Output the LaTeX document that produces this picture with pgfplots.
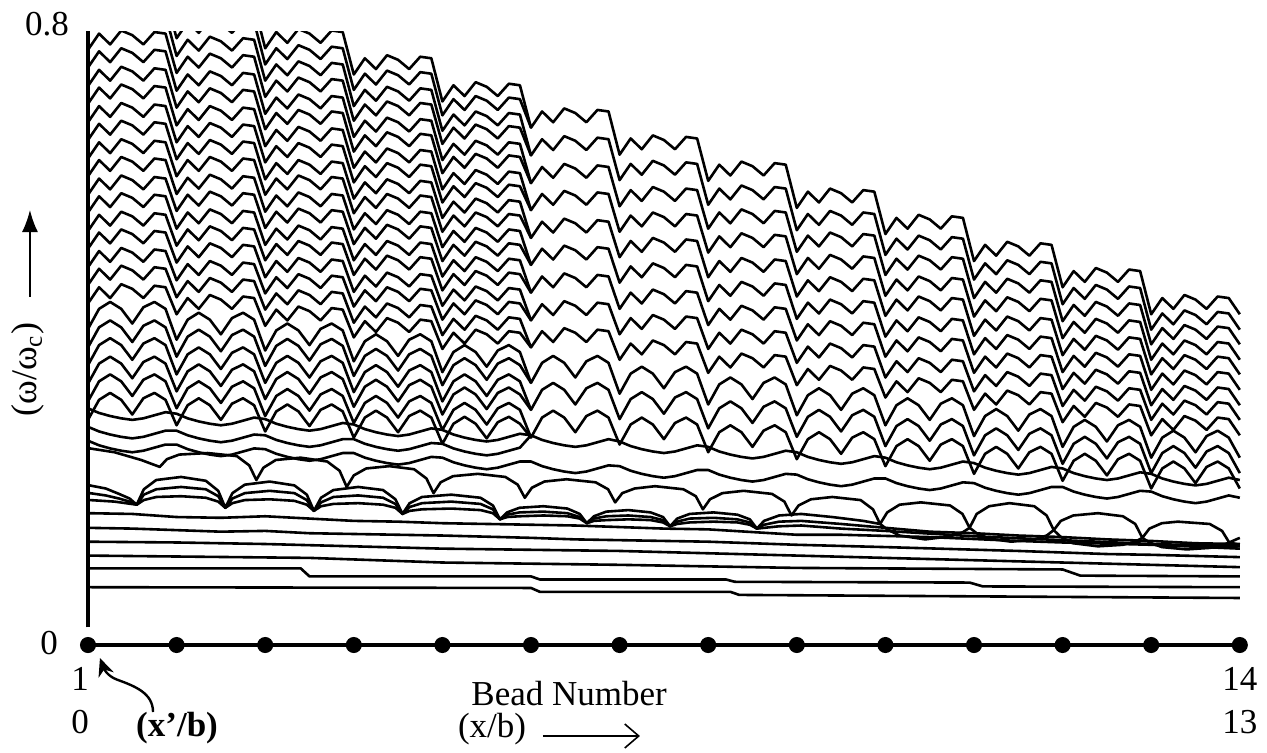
\documentclass[border=0pt]{standalone}
\usepackage{pgfplots}
\pgfplotsset{compat=1.18}
\usepackage{pgfplotstable}
\usepackage{fontspec}
\setmainfont{Liberation Serif}
\usetikzlibrary{arrows.meta}
\newcommand\lbl{\fontsize{17.5}{21}\selectfont}

% family of 27 curves, every eighth of a bead (even ones are drawn up to bead 5 only)
\pgfplotstableread{
x d1 d2 d3 d4 d5 d6 d7 d8 d9 d10 d11 d12 d13 d14 d15 d16 d17 d18 d19 d20 d21 d22 d23 d24 d25 d26 d27
0 0.843 0.819 0.796 0.772 0.749 0.725 0.702 0.678 0.655 0.631 0.608 0.584 0.561 0.537 0.514 0.490 0.467 0.443 0.410 0.386 0.363 0.339 0.316 0.292 0.307 0.283 0.265
0.125 0.864 0.840 0.817 0.793 0.770 0.746 0.723 0.699 0.676 0.652 0.629 0.605 0.582 0.558 0.535 0.511 0.488 0.464 0.436 0.412 0.389 0.365 0.342 0.318 0.301 0.277 0.259
0.25 0.850 0.826 0.803 0.779 0.756 0.732 0.709 0.685 0.662 0.638 0.615 0.591 0.568 0.544 0.521 0.497 0.474 0.450 0.445 0.421 0.398 0.374 0.351 0.327 0.297 0.273 0.255
0.375 0.868 0.844 0.821 0.797 0.774 0.750 0.727 0.703 0.680 0.656 0.633 0.609 0.586 0.562 0.539 0.515 0.492 0.468 0.436 0.412 0.389 0.365 0.342 0.318 0.294 0.270 0.252
0.5 0.862 0.838 0.815 0.791 0.768 0.744 0.721 0.697 0.674 0.650 0.627 0.603 0.580 0.556 0.533 0.509 0.486 0.462 0.417 0.393 0.370 0.346 0.323 0.299 0.292 0.268 0.250
0.625 0.850 0.826 0.803 0.779 0.756 0.732 0.709 0.685 0.662 0.638 0.615 0.591 0.568 0.544 0.521 0.497 0.474 0.450 0.438 0.414 0.391 0.367 0.344 0.320 0.294 0.270 0.252
0.75 0.866 0.842 0.819 0.795 0.772 0.748 0.725 0.701 0.678 0.654 0.631 0.607 0.584 0.560 0.537 0.513 0.490 0.466 0.445 0.421 0.398 0.374 0.351 0.327 0.298 0.274 0.256
0.875 0.864 0.840 0.817 0.793 0.770 0.746 0.723 0.699 0.676 0.652 0.629 0.605 0.582 0.558 0.535 0.511 0.488 0.464 0.436 0.412 0.389 0.365 0.342 0.318 0.302 0.278 0.260
1 0.809 0.787 0.764 0.742 0.719 0.697 0.674 0.652 0.630 0.608 0.585 0.563 0.540 0.518 0.496 0.473 0.451 0.429 0.396 0.374 0.351 0.329 0.307 0.285 0.300 0.278 0.260
1.125 0.830 0.808 0.785 0.763 0.740 0.718 0.695 0.673 0.651 0.629 0.606 0.584 0.561 0.539 0.517 0.494 0.472 0.450 0.422 0.400 0.377 0.355 0.333 0.311 0.294 0.272 0.254
1.25 0.816 0.794 0.771 0.749 0.726 0.704 0.681 0.659 0.637 0.615 0.592 0.570 0.547 0.525 0.503 0.480 0.458 0.436 0.431 0.409 0.386 0.364 0.342 0.320 0.290 0.268 0.250
1.375 0.834 0.812 0.789 0.767 0.744 0.722 0.699 0.677 0.655 0.633 0.610 0.588 0.565 0.543 0.521 0.498 0.476 0.454 0.422 0.400 0.377 0.355 0.333 0.311 0.287 0.265 0.247
1.5 0.828 0.806 0.783 0.761 0.738 0.716 0.693 0.671 0.649 0.627 0.604 0.582 0.559 0.537 0.515 0.492 0.470 0.448 0.403 0.381 0.358 0.336 0.314 0.292 0.285 0.263 0.245
1.625 0.816 0.794 0.771 0.749 0.726 0.704 0.681 0.659 0.637 0.615 0.592 0.570 0.547 0.525 0.503 0.480 0.458 0.436 0.424 0.402 0.379 0.357 0.335 0.313 0.287 0.265 0.247
1.75 0.832 0.810 0.787 0.765 0.742 0.720 0.697 0.675 0.653 0.631 0.608 0.586 0.563 0.541 0.519 0.496 0.474 0.452 0.431 0.409 0.386 0.364 0.342 0.320 0.291 0.269 0.251
1.875 0.830 0.808 0.785 0.763 0.740 0.718 0.695 0.673 0.651 0.629 0.606 0.584 0.561 0.539 0.517 0.494 0.472 0.450 0.422 0.400 0.377 0.355 0.333 0.311 0.295 0.273 0.255
2 0.774 0.753 0.732 0.711 0.689 0.669 0.647 0.626 0.604 0.584 0.562 0.541 0.519 0.499 0.477 0.456 0.435 0.414 0.382 0.362 0.340 0.319 0.297 0.277 0.293 0.272 0.254
2.125 0.795 0.774 0.753 0.732 0.710 0.690 0.668 0.647 0.625 0.605 0.583 0.562 0.540 0.520 0.498 0.477 0.456 0.435 0.408 0.388 0.366 0.345 0.323 0.303 0.287 0.266 0.248
2.25 0.781 0.760 0.739 0.718 0.696 0.676 0.654 0.633 0.611 0.591 0.569 0.548 0.526 0.506 0.484 0.463 0.442 0.421 0.417 0.397 0.375 0.354 0.332 0.312 0.283 0.262 0.244
2.375 0.799 0.778 0.757 0.736 0.714 0.694 0.672 0.651 0.629 0.609 0.587 0.566 0.544 0.524 0.502 0.481 0.460 0.439 0.408 0.388 0.366 0.345 0.323 0.303 0.280 0.259 0.241
2.5 0.793 0.772 0.751 0.730 0.708 0.688 0.666 0.645 0.623 0.603 0.581 0.560 0.538 0.518 0.496 0.475 0.454 0.433 0.389 0.369 0.347 0.326 0.304 0.284 0.278 0.257 0.239
2.625 0.781 0.760 0.739 0.718 0.696 0.676 0.654 0.633 0.611 0.591 0.569 0.548 0.526 0.506 0.484 0.463 0.442 0.421 0.410 0.390 0.368 0.347 0.325 0.305 0.280 0.259 0.241
2.75 0.797 0.776 0.755 0.734 0.712 0.692 0.670 0.649 0.627 0.607 0.585 0.564 0.542 0.522 0.500 0.479 0.458 0.437 0.417 0.397 0.375 0.354 0.332 0.312 0.284 0.263 0.245
2.875 0.795 0.774 0.753 0.732 0.710 0.690 0.668 0.647 0.625 0.605 0.583 0.562 0.540 0.520 0.498 0.477 0.456 0.435 0.408 0.388 0.366 0.345 0.323 0.303 0.288 0.267 0.249
3 0.740 0.720 0.699 0.680 0.659 0.640 0.619 0.600 0.579 0.560 0.539 0.520 0.499 0.480 0.458 0.439 0.418 0.399 0.368 0.349 0.328 0.309 0.288 0.269 0.286 0.267 0.249
3.125 0.761 0.741 0.720 0.701 0.680 0.661 0.640 0.621 0.600 0.581 0.560 0.541 0.520 0.501 0.479 0.460 0.439 0.420 0.394 0.375 0.354 0.335 0.314 0.295 0.280 0.261 0.243
3.25 0.747 0.727 0.706 0.687 0.666 0.647 0.626 0.607 0.586 0.567 0.546 0.527 0.506 0.487 0.465 0.446 0.425 0.406 0.403 0.384 0.363 0.344 0.323 0.304 0.276 0.257 0.239
3.375 0.765 0.745 0.724 0.705 0.684 0.665 0.644 0.625 0.604 0.585 0.564 0.545 0.524 0.505 0.483 0.464 0.443 0.424 0.394 0.375 0.354 0.335 0.314 0.295 0.273 0.254 0.236
3.5 0.759 0.739 0.718 0.699 0.678 0.659 0.638 0.619 0.598 0.579 0.558 0.539 0.518 0.499 0.477 0.458 0.437 0.418 0.375 0.356 0.335 0.316 0.295 0.276 0.271 0.252 0.234
3.625 0.747 0.727 0.706 0.687 0.666 0.647 0.626 0.607 0.586 0.567 0.546 0.527 0.506 0.487 0.465 0.446 0.425 0.406 0.396 0.377 0.356 0.337 0.316 0.297 0.273 0.254 0.236
3.75 0.763 0.743 0.722 0.703 0.682 0.663 0.642 0.623 0.602 0.583 0.562 0.543 0.522 0.503 0.481 0.462 0.441 0.422 0.403 0.384 0.363 0.344 0.323 0.304 0.277 0.258 0.240
3.875 0.761 0.741 0.720 0.701 0.680 0.661 0.640 0.621 0.600 0.581 0.560 0.541 0.520 0.501 0.479 0.460 0.439 0.420 0.394 0.375 0.354 0.335 0.314 0.295 0.281 0.262 0.244
4 0.705 0.687 0.667 0.650 0.629 0.612 0.591 0.574 0.554 0.536 0.516 0.498 0.478 0.460 0.440 0.422 0.402 0.384 0.354 0.337 0.316 0.299 0.279 0.261 0.279 0.261 0.243
4.125 0.726 0.708 0.688 0.671 0.650 0.633 0.612 0.595 0.575 0.557 0.537 0.519 0.499 0.481 0.461 0.443 0.423 0.405 0.380 0.363 0.342 0.325 0.305 0.287 0.273 0.255 0.237
4.25 0.712 0.694 0.674 0.657 0.636 0.619 0.598 0.581 0.561 0.543 0.523 0.505 0.485 0.467 0.447 0.429 0.409 0.391 0.389 0.372 0.351 0.334 0.314 0.296 0.269 0.251 0.233
4.375 0.730 0.712 0.692 0.675 0.654 0.637 0.616 0.599 0.579 0.561 0.541 0.523 0.503 0.485 0.465 0.447 0.427 0.409 0.380 0.363 0.342 0.325 0.305 0.287 0.266 0.248 0.230
4.5 0.724 0.706 0.686 0.669 0.648 0.631 0.610 0.593 0.573 0.555 0.535 0.517 0.497 0.479 0.459 0.441 0.421 0.403 0.361 0.344 0.323 0.306 0.286 0.268 0.264 0.246 0.228
4.625 0.712 0.694 0.674 0.657 0.636 0.619 0.598 0.581 0.561 0.543 0.523 0.505 0.485 0.467 0.447 0.429 0.409 0.391 0.382 0.365 0.344 0.327 0.307 0.289 0.266 0.248 0.230
4.75 0.728 0.710 0.690 0.673 0.652 0.635 0.614 0.597 0.577 0.559 0.539 0.521 0.501 0.483 0.463 0.445 0.425 0.407 0.389 0.372 0.351 0.334 0.314 0.296 0.270 0.252 0.234
4.875 0.726 0.708 0.688 0.671 0.650 0.633 0.612 0.595 0.575 0.557 0.537 0.519 0.499 0.481 0.461 0.443 0.423 0.405 0.380 0.363 0.342 0.325 0.305 0.287 0.274 0.256 0.238
5 0.671 0.671 0.635 0.635 0.599 0.599 0.564 0.564 0.528 0.528 0.493 0.493 0.457 0.457 0.421 0.421 0.386 0.386 0.340 0.340 0.305 0.305 0.269 0.269 0.272 0.272 0.238
5.125 0.692 0.675 0.656 0.640 0.620 0.604 0.585 0.569 0.549 0.533 0.514 0.497 0.478 0.462 0.442 0.426 0.407 0.391 0.366 0.350 0.331 0.315 0.295 0.279 0.266 0.249 0.232
5.25 0.678 0.661 0.642 0.626 0.606 0.590 0.571 0.555 0.535 0.519 0.500 0.483 0.464 0.448 0.428 0.412 0.393 0.377 0.375 0.359 0.340 0.324 0.304 0.288 0.262 0.245 0.228
5.375 0.696 0.679 0.660 0.644 0.624 0.608 0.589 0.573 0.553 0.537 0.518 0.501 0.482 0.466 0.446 0.430 0.411 0.395 0.366 0.350 0.331 0.315 0.295 0.279 0.259 0.242 0.225
5.5 0.690 0.673 0.654 0.638 0.618 0.602 0.583 0.567 0.547 0.531 0.512 0.495 0.476 0.460 0.440 0.424 0.405 0.389 0.347 0.331 0.312 0.296 0.276 0.260 0.257 0.240 0.223
5.625 0.678 0.661 0.642 0.626 0.606 0.590 0.571 0.555 0.535 0.519 0.500 0.483 0.464 0.448 0.428 0.412 0.393 0.377 0.368 0.352 0.333 0.317 0.297 0.281 0.259 0.242 0.225
5.75 0.694 0.677 0.658 0.642 0.622 0.606 0.587 0.571 0.551 0.535 0.516 0.499 0.480 0.464 0.444 0.428 0.409 0.393 0.375 0.359 0.340 0.324 0.304 0.288 0.263 0.246 0.229
5.875 0.692 0.675 0.656 0.640 0.620 0.604 0.585 0.569 0.549 0.533 0.514 0.497 0.478 0.462 0.442 0.426 0.407 0.391 0.366 0.350 0.331 0.315 0.295 0.279 0.267 0.250 0.233
6 0.636 0.621 0.603 0.588 0.569 0.555 0.536 0.521 0.503 0.488 0.470 0.455 0.436 0.422 0.403 0.388 0.370 0.355 0.326 0.312 0.293 0.278 0.260 0.245 0.264 0.250 0.232
6.125 0.657 0.642 0.624 0.609 0.590 0.576 0.557 0.542 0.524 0.509 0.491 0.476 0.457 0.443 0.424 0.409 0.391 0.376 0.352 0.338 0.319 0.304 0.286 0.271 0.258 0.244 0.226
6.25 0.643 0.628 0.610 0.595 0.576 0.562 0.543 0.528 0.510 0.495 0.477 0.462 0.443 0.429 0.410 0.395 0.377 0.362 0.361 0.347 0.328 0.313 0.295 0.280 0.254 0.240 0.222
6.375 0.661 0.646 0.628 0.613 0.594 0.580 0.561 0.546 0.528 0.513 0.495 0.480 0.461 0.447 0.428 0.413 0.395 0.380 0.352 0.338 0.319 0.304 0.286 0.271 0.251 0.237 0.219
6.5 0.655 0.640 0.622 0.607 0.588 0.574 0.555 0.540 0.522 0.507 0.489 0.474 0.455 0.441 0.422 0.407 0.389 0.374 0.333 0.319 0.300 0.285 0.267 0.252 0.249 0.235 0.217
6.625 0.643 0.628 0.610 0.595 0.576 0.562 0.543 0.528 0.510 0.495 0.477 0.462 0.443 0.429 0.410 0.395 0.377 0.362 0.354 0.340 0.321 0.306 0.288 0.273 0.251 0.237 0.219
6.75 0.659 0.644 0.626 0.611 0.592 0.578 0.559 0.544 0.526 0.511 0.493 0.478 0.459 0.445 0.426 0.411 0.393 0.378 0.361 0.347 0.328 0.313 0.295 0.280 0.255 0.241 0.223
6.875 0.657 0.642 0.624 0.609 0.590 0.576 0.557 0.542 0.524 0.509 0.491 0.476 0.457 0.443 0.424 0.409 0.391 0.376 0.352 0.338 0.319 0.304 0.286 0.271 0.259 0.245 0.227
7 0.602 0.588 0.571 0.557 0.540 0.526 0.509 0.495 0.477 0.464 0.446 0.433 0.415 0.402 0.384 0.371 0.353 0.340 0.312 0.299 0.281 0.268 0.250 0.237 0.257 0.244 0.227
7.125 0.623 0.609 0.592 0.578 0.561 0.547 0.530 0.516 0.498 0.485 0.467 0.454 0.436 0.423 0.405 0.392 0.374 0.361 0.338 0.325 0.307 0.294 0.276 0.263 0.251 0.238 0.221
7.25 0.609 0.595 0.578 0.564 0.547 0.533 0.516 0.502 0.484 0.471 0.453 0.440 0.422 0.409 0.391 0.378 0.360 0.347 0.347 0.334 0.316 0.303 0.285 0.272 0.247 0.234 0.217
7.375 0.627 0.613 0.596 0.582 0.565 0.551 0.534 0.520 0.502 0.489 0.471 0.458 0.440 0.427 0.409 0.396 0.378 0.365 0.338 0.325 0.307 0.294 0.276 0.263 0.244 0.231 0.214
7.5 0.621 0.607 0.590 0.576 0.559 0.545 0.528 0.514 0.496 0.483 0.465 0.452 0.434 0.421 0.403 0.390 0.372 0.359 0.319 0.306 0.288 0.275 0.257 0.244 0.242 0.229 0.212
7.625 0.609 0.595 0.578 0.564 0.547 0.533 0.516 0.502 0.484 0.471 0.453 0.440 0.422 0.409 0.391 0.378 0.360 0.347 0.340 0.327 0.309 0.296 0.278 0.265 0.244 0.231 0.214
7.75 0.625 0.611 0.594 0.580 0.563 0.549 0.532 0.518 0.500 0.487 0.469 0.456 0.438 0.425 0.407 0.394 0.376 0.363 0.347 0.334 0.316 0.303 0.285 0.272 0.248 0.235 0.218
7.875 0.623 0.609 0.592 0.578 0.561 0.547 0.530 0.516 0.498 0.485 0.467 0.454 0.436 0.423 0.405 0.392 0.374 0.361 0.338 0.325 0.307 0.294 0.276 0.263 0.252 0.239 0.222
8 0.567 0.555 0.538 0.526 0.510 0.498 0.481 0.469 0.452 0.440 0.423 0.412 0.395 0.383 0.366 0.354 0.337 0.325 0.298 0.287 0.270 0.258 0.241 0.229 0.250 0.238 0.221
8.125 0.588 0.576 0.559 0.547 0.531 0.519 0.502 0.490 0.473 0.461 0.444 0.433 0.416 0.404 0.387 0.375 0.358 0.346 0.324 0.313 0.296 0.284 0.267 0.255 0.244 0.232 0.215
8.25 0.574 0.562 0.545 0.533 0.517 0.505 0.488 0.476 0.459 0.447 0.430 0.419 0.402 0.390 0.373 0.361 0.344 0.332 0.333 0.322 0.305 0.293 0.276 0.264 0.240 0.228 0.211
8.375 0.592 0.580 0.563 0.551 0.535 0.523 0.506 0.494 0.477 0.465 0.448 0.437 0.420 0.408 0.391 0.379 0.362 0.350 0.324 0.313 0.296 0.284 0.267 0.255 0.237 0.225 0.208
8.5 0.586 0.574 0.557 0.545 0.529 0.517 0.500 0.488 0.471 0.459 0.442 0.431 0.414 0.402 0.385 0.373 0.356 0.344 0.305 0.294 0.277 0.265 0.248 0.236 0.235 0.223 0.206
8.625 0.574 0.562 0.545 0.533 0.517 0.505 0.488 0.476 0.459 0.447 0.430 0.419 0.402 0.390 0.373 0.361 0.344 0.332 0.326 0.315 0.298 0.286 0.269 0.257 0.237 0.225 0.208
8.75 0.590 0.578 0.561 0.549 0.533 0.521 0.504 0.492 0.475 0.463 0.446 0.435 0.418 0.406 0.389 0.377 0.360 0.348 0.333 0.322 0.305 0.293 0.276 0.264 0.241 0.229 0.212
8.875 0.588 0.576 0.559 0.547 0.531 0.519 0.502 0.490 0.473 0.461 0.444 0.433 0.416 0.404 0.387 0.375 0.358 0.346 0.324 0.313 0.296 0.284 0.267 0.255 0.245 0.233 0.216
9 0.533 0.522 0.506 0.496 0.480 0.469 0.453 0.443 0.427 0.416 0.400 0.390 0.374 0.363 0.347 0.337 0.321 0.311 0.285 0.274 0.258 0.248 0.232 0.221 0.243 0.233 0.216
9.125 0.554 0.543 0.527 0.517 0.501 0.490 0.474 0.464 0.448 0.437 0.421 0.411 0.395 0.384 0.368 0.358 0.342 0.332 0.311 0.300 0.284 0.274 0.258 0.247 0.237 0.227 0.210
9.25 0.540 0.529 0.513 0.503 0.487 0.476 0.460 0.450 0.434 0.423 0.407 0.397 0.381 0.370 0.354 0.344 0.328 0.318 0.320 0.309 0.293 0.283 0.267 0.256 0.233 0.223 0.206
9.375 0.558 0.547 0.531 0.521 0.505 0.494 0.478 0.468 0.452 0.441 0.425 0.415 0.399 0.388 0.372 0.362 0.346 0.336 0.311 0.300 0.284 0.274 0.258 0.247 0.230 0.220 0.203
9.5 0.552 0.541 0.525 0.515 0.499 0.488 0.472 0.462 0.446 0.435 0.419 0.409 0.393 0.382 0.366 0.356 0.340 0.330 0.292 0.281 0.265 0.255 0.239 0.228 0.228 0.218 0.201
9.625 0.540 0.529 0.513 0.503 0.487 0.476 0.460 0.450 0.434 0.423 0.407 0.397 0.381 0.370 0.354 0.344 0.328 0.318 0.313 0.302 0.286 0.276 0.260 0.249 0.230 0.220 0.203
9.75 0.556 0.545 0.529 0.519 0.503 0.492 0.476 0.466 0.450 0.439 0.423 0.413 0.397 0.386 0.370 0.360 0.344 0.334 0.320 0.309 0.293 0.283 0.267 0.256 0.234 0.224 0.207
9.875 0.554 0.543 0.527 0.517 0.501 0.490 0.474 0.464 0.448 0.437 0.421 0.411 0.395 0.384 0.368 0.358 0.342 0.332 0.311 0.300 0.284 0.274 0.258 0.247 0.238 0.228 0.211
10 0.498 0.489 0.474 0.465 0.450 0.441 0.426 0.417 0.401 0.392 0.377 0.368 0.353 0.344 0.329 0.320 0.305 0.296 0.271 0.262 0.246 0.237 0.222 0.213 0.236 0.227 0.210
10.125 0.519 0.510 0.495 0.486 0.471 0.462 0.447 0.438 0.422 0.413 0.398 0.389 0.374 0.365 0.350 0.341 0.326 0.317 0.297 0.288 0.272 0.263 0.248 0.239 0.230 0.221 0.204
10.25 0.505 0.496 0.481 0.472 0.457 0.448 0.433 0.424 0.408 0.399 0.384 0.375 0.360 0.351 0.336 0.327 0.312 0.303 0.306 0.297 0.281 0.272 0.257 0.248 0.226 0.217 0.200
10.375 0.523 0.514 0.499 0.490 0.475 0.466 0.451 0.442 0.426 0.417 0.402 0.393 0.378 0.369 0.354 0.345 0.330 0.321 0.297 0.288 0.272 0.263 0.248 0.239 0.223 0.214 0.197
10.5 0.517 0.508 0.493 0.484 0.469 0.460 0.445 0.436 0.420 0.411 0.396 0.387 0.372 0.363 0.348 0.339 0.324 0.315 0.278 0.269 0.253 0.244 0.229 0.220 0.221 0.212 0.195
10.625 0.505 0.496 0.481 0.472 0.457 0.448 0.433 0.424 0.408 0.399 0.384 0.375 0.360 0.351 0.336 0.327 0.312 0.303 0.299 0.290 0.274 0.265 0.250 0.241 0.223 0.214 0.197
10.75 0.521 0.512 0.497 0.488 0.473 0.464 0.449 0.440 0.424 0.415 0.400 0.391 0.376 0.367 0.352 0.343 0.328 0.319 0.306 0.297 0.281 0.272 0.257 0.248 0.227 0.218 0.201
10.875 0.519 0.510 0.495 0.486 0.471 0.462 0.447 0.438 0.422 0.413 0.398 0.389 0.374 0.365 0.350 0.341 0.326 0.317 0.297 0.288 0.272 0.263 0.248 0.239 0.231 0.222 0.205
11 0.464 0.456 0.442 0.434 0.420 0.412 0.398 0.390 0.376 0.369 0.354 0.347 0.332 0.325 0.310 0.303 0.289 0.281 0.257 0.249 0.235 0.227 0.213 0.205 0.229 0.222 0.205
11.125 0.485 0.477 0.463 0.455 0.441 0.433 0.419 0.411 0.397 0.390 0.375 0.368 0.353 0.346 0.331 0.324 0.310 0.302 0.283 0.275 0.261 0.253 0.239 0.231 0.223 0.216 0.199
11.25 0.471 0.463 0.449 0.441 0.427 0.419 0.405 0.397 0.383 0.376 0.361 0.354 0.339 0.332 0.317 0.310 0.296 0.288 0.292 0.284 0.270 0.262 0.248 0.240 0.219 0.212 0.195
11.375 0.489 0.481 0.467 0.459 0.445 0.437 0.423 0.415 0.401 0.394 0.379 0.372 0.357 0.350 0.335 0.328 0.314 0.306 0.283 0.275 0.261 0.253 0.239 0.231 0.216 0.209 0.192
11.5 0.483 0.475 0.461 0.453 0.439 0.431 0.417 0.409 0.395 0.388 0.373 0.366 0.351 0.344 0.329 0.322 0.308 0.300 0.264 0.256 0.242 0.234 0.220 0.212 0.214 0.207 0.190
11.625 0.471 0.463 0.449 0.441 0.427 0.419 0.405 0.397 0.383 0.376 0.361 0.354 0.339 0.332 0.317 0.310 0.296 0.288 0.285 0.277 0.263 0.255 0.241 0.233 0.216 0.209 0.192
11.75 0.487 0.479 0.465 0.457 0.443 0.435 0.421 0.413 0.399 0.392 0.377 0.370 0.355 0.348 0.333 0.326 0.312 0.304 0.292 0.284 0.270 0.262 0.248 0.240 0.220 0.213 0.196
11.875 0.485 0.477 0.463 0.455 0.441 0.433 0.419 0.411 0.397 0.390 0.375 0.368 0.353 0.346 0.331 0.324 0.310 0.302 0.283 0.275 0.261 0.253 0.239 0.231 0.224 0.217 0.200
12 0.429 0.423 0.409 0.403 0.390 0.384 0.370 0.364 0.351 0.345 0.331 0.325 0.311 0.305 0.292 0.286 0.272 0.266 0.243 0.237 0.223 0.217 0.203 0.197 0.222 0.216 0.199
12.125 0.450 0.444 0.430 0.424 0.411 0.405 0.391 0.385 0.372 0.366 0.352 0.346 0.332 0.326 0.313 0.307 0.293 0.287 0.269 0.263 0.249 0.243 0.229 0.223 0.216 0.210 0.193
12.25 0.436 0.430 0.416 0.410 0.397 0.391 0.377 0.371 0.358 0.352 0.338 0.332 0.318 0.312 0.299 0.293 0.279 0.273 0.278 0.272 0.258 0.252 0.238 0.232 0.212 0.206 0.189
12.375 0.454 0.448 0.434 0.428 0.415 0.409 0.395 0.389 0.376 0.370 0.356 0.350 0.336 0.330 0.317 0.311 0.297 0.291 0.269 0.263 0.249 0.243 0.229 0.223 0.209 0.203 0.186
12.5 0.448 0.442 0.428 0.422 0.409 0.403 0.389 0.383 0.370 0.364 0.350 0.344 0.330 0.324 0.311 0.305 0.291 0.285 0.250 0.244 0.230 0.224 0.210 0.204 0.207 0.201 0.184
12.625 0.436 0.430 0.416 0.410 0.397 0.391 0.377 0.371 0.358 0.352 0.338 0.332 0.318 0.312 0.299 0.293 0.279 0.273 0.271 0.265 0.251 0.245 0.231 0.225 0.209 0.203 0.186
12.75 0.452 0.446 0.432 0.426 0.413 0.407 0.393 0.387 0.374 0.368 0.354 0.348 0.334 0.328 0.315 0.309 0.295 0.289 0.278 0.272 0.258 0.252 0.238 0.232 0.213 0.207 0.190
12.875 0.450 0.444 0.430 0.424 0.411 0.405 0.391 0.385 0.372 0.366 0.352 0.346 0.332 0.326 0.313 0.307 0.293 0.287 0.269 0.263 0.249 0.243 0.229 0.223 0.217 0.211 0.194
13 0.429 0.423 0.409 0.403 0.390 0.384 0.370 0.364 0.351 0.345 0.331 0.325 0.311 0.305 0.292 0.286 0.272 0.266 0.243 0.237 0.223 0.217 0.203 0.197 0.214 0.208 0.191
}\fam

\begin{document}
\begin{tikzpicture}
\begin{axis}[
  x=44.3pt, y=385.5pt,
  xmin=-0.2, xmax=13.2, ymin=-0.03, ymax=0.796,
  hide axis,
  clip mode=individual,
]
% invisible frame fixing the picture extent
\path (axis cs:-0.9932,-0.1388) rectangle (axis cs:13.307,0.8366);

\pgfplotsinvokeforeach{1,3,...,27}{
  \addplot[black, line width=1.3pt, line join=round] table[x=x, y=d#1]{\fam};
}
\pgfplotsinvokeforeach{2,4,...,26}{
  \addplot[black, line width=1.3pt, line join=round, restrict x to domain=0:5] table[x=x, y=d#1]{\fam};
}

% D1: big arches
\addplot[black, line width=1.3pt, line join=round] coordinates {
(0.02,0.255) (0.3,0.250) (0.6,0.240) (0.81,0.231)
(0.89,0.241) (1.03,0.247) (1.35,0.249) (1.68,0.245) (1.82,0.233) (1.9,0.214)
(1.98,0.230) (2.12,0.240) (2.4,0.243) (2.70,0.238) (2.84,0.226) (2.92,0.205)
(3.0,0.220) (3.14,0.229) (3.4,0.232) (3.68,0.228) (3.82,0.216) (3.9,0.197)
(3.98,0.211) (4.12,0.219) (4.4,0.222) (4.71,0.218) (4.85,0.208) (4.93,0.191)
(5.01,0.204) (5.15,0.212) (5.4,0.215) (5.73,0.211) (5.87,0.202) (5.95,0.185)
(6.03,0.197) (6.17,0.203) (6.4,0.206) (6.72,0.202) (6.86,0.193) (6.94,0.176)
(7.02,0.189) (7.16,0.197) (7.4,0.200) (7.72,0.196) (7.86,0.186) (7.94,0.168)
(8.02,0.181) (8.16,0.189) (8.4,0.192) (8.72,0.188) (8.86,0.176) (8.94,0.157)
(9.02,0.172) (9.16,0.182) (9.4,0.185) (9.73,0.181) (9.87,0.170) (9.95,0.152)
(10.03,0.170) (10.17,0.180) (10.4,0.184) (10.68,0.180) (10.82,0.168) (10.9,0.149)
(10.98,0.161) (11.12,0.168) (11.4,0.171) (11.68,0.167) (11.82,0.157) (11.9,0.139)
(11.98,0.151) (12.12,0.158) (12.3,0.160) (12.66,0.157) (12.8,0.148) (12.88,0.133) (13,0.139)
};

% lens arches A3 (top), A2, A1
\addplot[black, line width=1.3pt, line join=round] coordinates {
(0.02,0.207) (0.2,0.203) (0.35,0.196) (0.47,0.190) (0.55,0.182)
(0.63,0.202) (0.77,0.214) (1.05,0.218) (1.33,0.213) (1.47,0.200) (1.55,0.178)
(1.63,0.197) (1.77,0.208) (2.05,0.212) (2.33,0.207) (2.47,0.195) (2.55,0.174)
(2.63,0.191) (2.77,0.201) (3.05,0.205) (3.33,0.201) (3.47,0.189) (3.55,0.170)
(3.63,0.184) (3.77,0.192) (4.1,0.195) (4.43,0.191) (4.57,0.181) (4.65,0.163)
(4.73,0.172) (4.87,0.178) (5.14,0.180) (5.41,0.177) (5.55,0.170) (5.63,0.158)
(5.71,0.167) (5.85,0.173) (6.1,0.175) (6.35,0.172) (6.49,0.166) (6.57,0.154)
(6.65,0.164) (6.79,0.170) (7.06,0.172) (7.33,0.169) (7.47,0.163) (7.55,0.151)
(7.63,0.161) (7.8,0.168) (8.05,0.170) (8.4,0.166) (8.75,0.161) (8.94,0.157)
(9.02,0.150) (9.16,0.142) (9.45,0.137) (9.73,0.141) (9.87,0.146) (9.95,0.152)
(10.03,0.145) (10.17,0.138) (10.42,0.134) (10.68,0.137) (10.82,0.142) (10.9,0.149)
(10.98,0.140) (11.12,0.132) (11.4,0.128) (11.68,0.130) (11.82,0.134) (11.9,0.139)
(11.98,0.133) (12.12,0.127) (12.4,0.124) (12.66,0.126) (12.8,0.129) (12.88,0.133) (13,0.130)
};
\addplot[black, line width=1.3pt, line join=round] coordinates {
(0.02,0.197) (0.2,0.194) (0.35,0.190) (0.47,0.186) (0.55,0.182)
(0.63,0.195) (0.77,0.202) (1.05,0.205) (1.33,0.202) (1.47,0.193) (1.55,0.178)
(1.63,0.190) (1.77,0.197) (2.05,0.200) (2.33,0.197) (2.47,0.188) (2.55,0.174)
(2.63,0.185) (2.77,0.192) (3.05,0.194) (3.33,0.191) (3.47,0.183) (3.55,0.170)
(3.63,0.179) (3.77,0.184) (4.1,0.186) (4.43,0.183) (4.57,0.176) (4.65,0.163)
(4.73,0.169) (4.87,0.172) (5.14,0.173) (5.41,0.171) (5.55,0.166) (5.63,0.158)
(5.71,0.164) (5.85,0.167) (6.1,0.168) (6.35,0.166) (6.49,0.162) (6.57,0.154)
(6.65,0.160) (6.79,0.164) (7.06,0.165) (7.33,0.163) (7.47,0.159) (7.55,0.151)
(7.63,0.156) (7.8,0.160) (8.05,0.161) (8.5,0.157) (9,0.152) (9.5,0.147) (10,0.145)
(10.5,0.142) (11,0.140) (11.5,0.137) (12,0.135) (12.5,0.132) (13,0.131)
};
\addplot[black, line width=1.3pt, line join=round] coordinates {
(0.02,0.188) (0.3,0.186) (0.55,0.182)
(0.63,0.188) (0.77,0.192) (1.05,0.193) (1.33,0.191) (1.47,0.186) (1.55,0.178)
(1.63,0.184) (1.77,0.188) (2.05,0.189) (2.33,0.187) (2.47,0.182) (2.55,0.174)
(2.63,0.180) (2.77,0.183) (3.05,0.184) (3.33,0.182) (3.47,0.178) (3.55,0.170)
(3.63,0.174) (3.77,0.176) (4.1,0.177) (4.43,0.175) (4.57,0.171) (4.65,0.163)
(4.73,0.166) (4.87,0.167) (5.14,0.168) (5.41,0.167) (5.55,0.164) (5.63,0.158)
(5.71,0.161) (5.85,0.162) (6.1,0.163) (6.35,0.162) (6.49,0.159) (6.57,0.154)
(6.65,0.157) (6.79,0.159) (7.06,0.160) (7.33,0.159) (7.47,0.156) (7.55,0.151)
(7.8,0.154) (8.05,0.155) (8.5,0.151) (9,0.148) (10,0.141) (11,0.136) (12,0.131) (13,0.128)
};

% lower, nearly flat curves
\addplot[black, line width=1.3pt] coordinates {
(0,0.171) (0.5,0.170) (1,0.166) (1.5,0.165) (2,0.167) (2.5,0.164) (3,0.161) (3.5,0.160)
(4,0.158) (4.5,0.157) (5.5,0.155) (6.5,0.151) (7,0.150) (8,0.143) (8.5,0.143) (9.5,0.140)
(10.5,0.135) (11,0.133) (12,0.130) (13,0.125)
};
\addplot[black, line width=1.3pt] coordinates {
(0,0.152) (0.5,0.151) (1,0.149) (1.5,0.147) (2,0.148) (2.5,0.145) (3,0.144) (3.5,0.143)
(4,0.142) (5,0.139) (5.5,0.137) (6.5,0.135) (7,0.134) (8,0.130) (9,0.127) (10.5,0.122)
(11.5,0.118) (12,0.117) (13,0.114)
};
\addplot[black, line width=1.3pt] coordinates {
(0,0.134) (1,0.133) (2,0.131) (3,0.128) (4,0.125) (6,0.122) (8,0.116) (10,0.110) (12,0.104) (13,0.101)
};
\addplot[black, line width=1.3pt] coordinates {
(0,0.116) (2.5,0.113) (4.0,0.107) (6.0,0.104) (8.0,0.100) (11.0,0.098) (11.2,0.090) (13,0.089)
};
\addplot[black, line width=1.3pt] coordinates {
(0,0.0995) (2.4,0.0995) (2.5,0.089) (5.0,0.089) (5.1,0.085) (7.2,0.085) (7.3,0.082)
(9.95,0.081) (10.1,0.076) (13,0.075)
};
\addplot[black, line width=1.3pt] coordinates {
(0,0.075) (5.0,0.074) (5.1,0.069) (7.25,0.069) (7.35,0.065) (13,0.061)
};

% left edge where every curve rises
\addplot[black, line width=1.6pt] coordinates {(0,0.023) (0,0.8)};

% chain of beads
\addplot[black, line width=2pt, mark=*, mark size=3pt] coordinates {
(0,0) (1,0) (2,0) (3,0) (4,0) (5,0) (6,0) (7,0) (8,0) (9,0) (10,0) (11,0) (12,0) (13,0)
};

% labels
\node[font=\lbl] at (axis cs:-0.463,0.8055) {0.8};
\node[font=\lbl] at (axis cs:-0.440,0.0026) {0};
\node[font=\lbl] at (axis cs:-0.090,-0.0441) {1};
\node[font=\lbl] at (axis cs:-0.090,-0.0999) {0};
\node[font=\lbl] at (axis cs:13.0,-0.0441) {14};
\node[font=\lbl] at (axis cs:13.0,-0.0999) {13};
\node[font=\lbl] at (axis cs:5.43,-0.0629) {Bead Number};
\node[font=\lbl] at (axis cs:4.56,-0.1089) {(x/b)};
\node[font=\lbl] at (axis cs:1.005,-0.1074) {\textbf{(x'/b)}};
\draw[line width=0.8pt, -{Straight Barb[length=7pt,width=12pt]}] (axis cs:5.135,-0.118) -- (axis cs:6.23,-0.118);
\draw[line width=1.2pt, -{Stealth[length=9pt,width=8pt]}] (axis cs:0.734,-0.0869) to[out=90,in=-20] (axis cs:0.33,-0.045) to[out=160,in=-70] (axis cs:0.135,-0.0169);
\node[rotate=90, font=\fontsize{18}{22}\selectfont] at (axis cs:-0.677,0.357) {(ω/ω\textsubscript{c})};
\draw[line width=0.8pt, -{Latex[length=11pt,width=8pt]}] (axis cs:-0.655,0.4514) -- (axis cs:-0.655,0.5642);
\end{axis}
\end{tikzpicture}
\end{document}
